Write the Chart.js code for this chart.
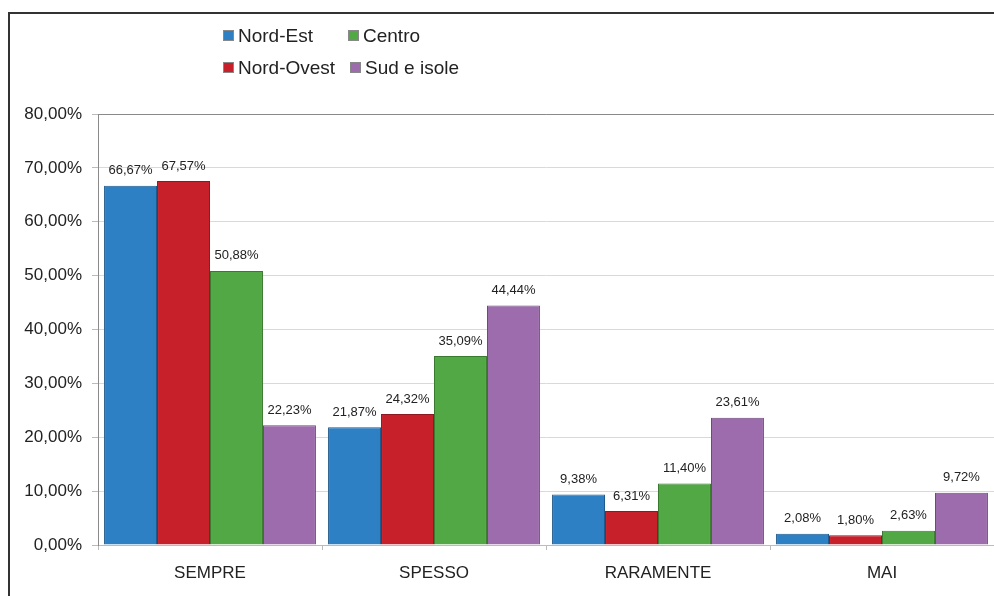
<!DOCTYPE html>
<html>
<head>
<meta charset="utf-8">
<script src="https://cdn.jsdelivr.net/npm/chart.js@4"></script>
<style>
  html, body { margin: 0; padding: 0; background: #fff; }
  #wrap { position: relative; width: 994px; height: 596px; overflow: hidden; }
  #frame { position: absolute; left: 8px; top: 12px; width: 1100px; height: 700px; border-left: 2px solid #333; border-top: 2px solid #333; box-sizing: border-box; }
  canvas { position: absolute; left: 0; top: 0; }
</style>
</head>
<body>
<div id="wrap">
  <div id="frame"></div>
  <canvas id="c" width="994" height="596"></canvas>
</div>
<script>
const categories = ["SEMPRE", "SPESSO", "RARAMENTE", "MAI"];
const seriesNames = ["Nord-Est", "Nord-Ovest", "Centro", "Sud e isole"];
const nordEst   = [66.67, 21.87, 9.38, 2.08];
const nordOvest = [67.57, 24.32, 6.31, 1.80];
const centro    = [50.88, 35.09, 11.40, 2.63];
const sudIsole  = [22.23, 44.44, 23.61, 9.72];
const yTicks = [0, 10, 20, 30, 40, 50, 60, 70, 80];

const fills   = ["#2e80c4", "#c8202a", "#52a845", "#9d6cad"];
const borders = ["#1f5a8c", "#8c1a20", "#3a7a30", "#6e4a7a"];
const FONT = "'Liberation Sans', Arial, sans-serif";

function fmt(v) { return v.toFixed(2).replace('.', ',') + '%'; }

const values = [nordEst, nordOvest, centro, sudIsole];
const datasets = values.map((d, i) => ({
  label: seriesNames[i],
  data: d,
  backgroundColor: fills[i],
  borderColor: borders[i],
  borderWidth: 1,
  categoryPercentage: 0.946,
  barPercentage: 1.0
}));

const labelPlugin = {
  id: 'valueLabels',
  afterDatasetsDraw(chart) {
    const ctx = chart.ctx;
    ctx.save();
    ctx.font = "13px " + FONT;
    ctx.fillStyle = "#222";
    ctx.textAlign = "center";
    ctx.textBaseline = "middle";
    chart.data.datasets.forEach((ds, i) => {
      const meta = chart.getDatasetMeta(i);
      meta.data.forEach((bar, j) => {
        ctx.fillText(fmt(ds.data[j]), bar.x, bar.y - 15);
      });
    });
    ctx.restore();
  }
};

const framePlugin = {
  id: 'plotFrame',
  afterDraw(chart) {
    const a = chart.chartArea, ctx = chart.ctx;
    ctx.save();
    ctx.strokeStyle = "#8a8a8a";
    ctx.lineWidth = 1;
    ctx.beginPath();
    ctx.moveTo(a.left + 0.5, a.bottom);
    ctx.lineTo(a.left + 0.5, a.top + 0.5);
    ctx.lineTo(a.right, a.top + 0.5);
    ctx.stroke();
    ctx.restore();
  }
};

const legendPlugin = {
  id: 'gridLegend',
  afterDraw(chart) {
    const ctx = chart.ctx;
    const order = [[0, 223, 35], [2, 348, 35], [1, 223, 67], [3, 350, 67]];
    ctx.save();
    ctx.font = "19px " + FONT;
    ctx.textBaseline = "middle";
    ctx.textAlign = "left";
    order.forEach(([i, x, y]) => {
      const ds = chart.data.datasets[i];
      ctx.fillStyle = ds.backgroundColor;
      ctx.fillRect(x, y - 5, 11, 11);
      ctx.strokeStyle = "#888";
      ctx.lineWidth = 1;
      ctx.strokeRect(x + 0.5, y - 4.5, 10, 10);
      ctx.fillStyle = "#222";
      ctx.fillText(ds.label, x + 15, y + 1.5);
    });
    ctx.restore();
  }
};

new Chart(document.getElementById('c'), {
  type: 'bar',
  data: { labels: categories, datasets },
  options: {
    responsive: false,
    animation: false,
    layout: { padding: { top: 114, left: 0, right: 0, bottom: 0 } },
    plugins: { legend: { display: false }, tooltip: { enabled: false } },
    scales: {
      x: {
        grid: { display: true, offset: true, drawOnChartArea: false, tickLength: 5, tickColor: "#bbb" },
        border: { color: "#bbb" },
        ticks: { color: "#222", font: { family: FONT, size: 17 }, padding: 13 },
        afterFit(s) { s.height = 51; }
      },
      y: {
        min: 0, max: 80,
        afterBuildTicks(s) { s.ticks = yTicks.map(v => ({ value: v })); },
        grid: { color: "#d9d9d9", tickLength: 6, tickColor: "#bbb" },
        border: { color: "#8a8a8a" },
        ticks: { color: "#222", font: { family: FONT, size: 17 }, padding: 10, callback: v => fmt(v) },
        afterFit(s) { s.width = 98; }
      }
    }
  },
  plugins: [labelPlugin, framePlugin, legendPlugin]
});
</script>
</body>
</html>
